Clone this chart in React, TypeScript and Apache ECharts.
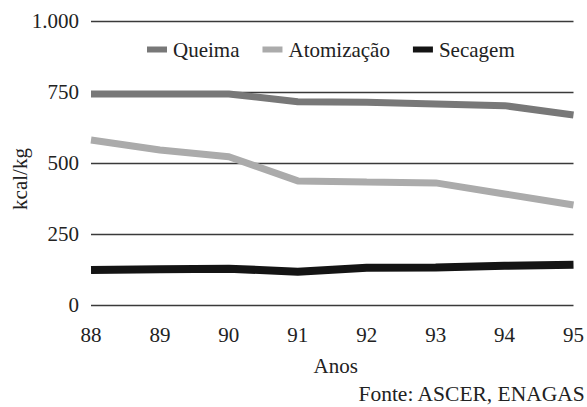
import React, { useEffect, useRef } from "react";
import * as echarts from "echarts";

// Consumo energético por etapa do processo cerâmico (kcal/kg)
const anos = ["88", "89", "90", "91", "92", "93", "94", "95"];
const queima = [743, 743, 743, 716, 714, 708, 702, 669];
const atomizacao = [581, 546, 522, 437, 433, 430, 391, 352];
const secagem = [123, 126, 128, 117, 131, 132, 138, 142];
const yTicks = [0, 250, 500, 750, 1000];

const FONT = "Liberation Serif";
const TEXT = "#222";
const FS = 21;

export default function App() {
  const ref = useRef<HTMLDivElement>(null);

  useEffect(() => {
    if (!ref.current) return;
    const chart = echarts.init(ref.current, undefined, { renderer: "svg" });
    const fmt = (v: number) => (v >= 1000 ? v.toLocaleString("de-DE") : String(v));
    chart.setOption({
      animation: false,
      backgroundColor: "#fff",
      textStyle: { fontFamily: FONT },
      grid: { left: 91, right: 11, top: 21, bottom: 102, containLabel: false },
      legend: {
        top: 34,
        left: 142,
        icon: "rect",
        itemWidth: 20,
        itemHeight: 6,
        itemGap: 23,
        textStyle: { fontFamily: FONT, fontSize: FS, color: TEXT, padding: [0, 0, 0, 1] },
        data: ["Queima", "Atomização", "Secagem"],
      },
      xAxis: {
        type: "category",
        data: anos,
        boundaryGap: false,
        axisLine: { show: false },
        axisTick: { show: false },
        axisLabel: { fontFamily: FONT, fontSize: FS, color: TEXT, margin: 19 },
        name: "Anos",
        nameLocation: "middle",
        nameGap: 50,
        nameTextStyle: { fontFamily: FONT, fontSize: FS, color: TEXT, padding: [0, 0, 0, 7] },
      },
      yAxis: {
        type: "value",
        min: yTicks[0],
        max: yTicks[yTicks.length - 1],
        interval: 250,
        axisLine: { show: false },
        axisTick: { show: false },
        axisLabel: {
          fontFamily: FONT,
          fontSize: FS,
          color: TEXT,
          margin: 12,
          formatter: (v: number) => fmt(v),
        },
        splitLine: { lineStyle: { color: "#3a3a3a", width: 1.4 } },
      },
      graphic: [
        {
          type: "text",
          x: 20,
          y: 179,
          rotation: Math.PI / 2,
          style: {
            text: "kcal/kg",
            fontFamily: FONT,
            fontSize: FS,
            fill: TEXT,
            align: "center",
            verticalAlign: "middle",
          },
        },
        {
          type: "text",
          right: 1,
          top: 383,
          style: {
            text: "Fonte: ASCER, ENAGAS",
            fontFamily: FONT,
            fontSize: FS + 0.5,
            fill: TEXT,
          },
        },
      ],
      series: [
        {
          name: "Queima",
          type: "line",
          data: queima,
          symbol: "none",
          color: "#787878",
          lineStyle: { width: 7, color: "#787878" },
        },
        {
          name: "Atomização",
          type: "line",
          data: atomizacao,
          symbol: "none",
          color: "#ababab",
          lineStyle: { width: 7, color: "#ababab" },
        },
        {
          name: "Secagem",
          type: "line",
          data: secagem,
          symbol: "none",
          color: "#141414",
          lineStyle: { width: 8, color: "#141414" },
        },
      ],
    });
    return () => chart.dispose();
  }, []);

  return <div ref={ref} style={{ width: 587, height: 407, position: "absolute", left: 0, top: 0 }} />;
}
